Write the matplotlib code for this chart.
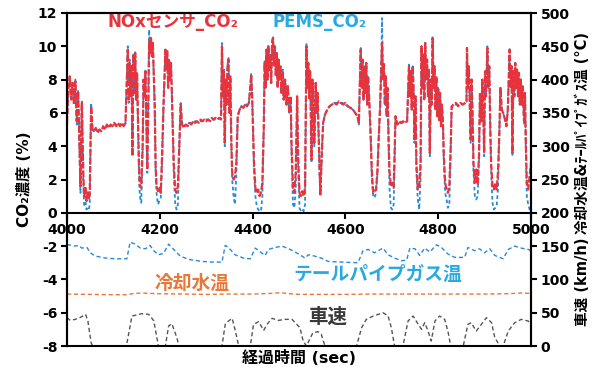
import matplotlib
matplotlib.use("Agg")
import matplotlib.pyplot as plt
import matplotlib.transforms as mtransforms

plt.rcParams['font.family'] = ['DejaVu Sans', 'Noto Sans CJK JP']
plt.rcParams['font.weight'] = 'bold'
plt.rcParams['axes.unicode_minus'] = False

# CO2 concentration (%) - NOx sensor and PEMS
co2_t = [4000, 4003, 4006, 4009, 4012, 4015, 4018, 4021, 4024, 4026, 4029, 4032, 4035, 4037, 4040, 4042, 4045, 4047, 4049, 4052, 4055,
         4058, 4062, 4066, 4070, 4074, 4078, 4082, 4086, 4090, 4094, 4098, 4102, 4106, 4110, 4114, 4118, 4122, 4126,
         4129, 4131, 4133, 4135, 4137, 4139, 4141, 4143, 4145, 4147, 4149, 4151, 4153, 4155, 4157, 4160, 4163, 4165, 4167, 4169,
         4171, 4173, 4175, 4177, 4179, 4181, 4183, 4185, 4187, 4189, 4191, 4193, 4196, 4199, 4202, 4205, 4208, 4210, 4212, 4214,
         4216, 4218, 4220, 4222, 4224, 4226, 4228, 4230, 4233, 4236, 4239, 4242, 4245, 4248,
         4252, 4256, 4260, 4264, 4268, 4272, 4276, 4280, 4284, 4288, 4292, 4296, 4300, 4304, 4308, 4312, 4316, 4320, 4324, 4328, 4332,
         4334, 4336, 4338, 4340, 4342, 4344, 4346, 4348, 4350, 4352, 4354, 4356, 4359, 4362, 4365, 4368, 4372, 4376, 4380, 4384,
         4388, 4392, 4395, 4397, 4399, 4401, 4403, 4406, 4409, 4412, 4415, 4418, 4421, 4424,
         4426, 4428, 4430, 4432, 4434, 4436, 4438, 4440, 4442, 4444, 4446, 4448, 4450, 4452, 4454, 4456, 4458, 4460, 4462,
         4465, 4467, 4470, 4473, 4476, 4479, 4482, 4484, 4487, 4490, 4493, 4496, 4498, 4501, 4504, 4507, 4510, 4513,
         4516, 4518, 4520, 4522, 4524, 4527, 4529, 4531, 4533, 4536, 4538, 4540, 4542, 4544, 4546, 4549, 4552, 4556, 4561,
         4566, 4571, 4576, 4581, 4586, 4590, 4595, 4600, 4605, 4611, 4616, 4621, 4626, 4629,
         4633, 4635, 4637, 4639, 4641, 4643, 4645, 4647, 4649, 4651, 4654, 4657, 4660, 4663, 4666, 4669, 4672, 4675, 4677, 4679,
         4681, 4683, 4685, 4687, 4689, 4691, 4693, 4695, 4698, 4701, 4704, 4706, 4708, 4712, 4716, 4720, 4724, 4728, 4733,
         4737, 4739, 4741, 4743, 4745, 4747, 4749, 4751, 4753, 4756, 4759, 4762,
         4764, 4766, 4768, 4770, 4772, 4774, 4776, 4778, 4780, 4782, 4784, 4786, 4788, 4790, 4792, 4794, 4796, 4798, 4800, 4802,
         4804, 4806, 4808, 4810, 4812, 4815, 4818, 4821, 4824, 4827,
         4829, 4833, 4838, 4843, 4848, 4853, 4858, 4861,
         4862, 4864, 4866, 4868, 4870, 4872, 4874, 4876, 4879, 4882, 4885, 4888, 4890, 4893, 4895, 4897, 4899, 4901,
         4903, 4906, 4908, 4910, 4912, 4914, 4917, 4920, 4923, 4926, 4929,
         4932, 4934, 4937, 4940, 4944, 4947, 4950, 4952, 4954, 4956, 4958, 4960, 4962, 4964, 4966, 4968, 4970, 4972,
         4974, 4976, 4978, 4980, 4982, 4985, 4987, 4989, 4991, 4994, 4997, 5000]
nox_co2 = [5.4, 7.5, 8.2, 6.8, 7.8, 6.5, 7.9, 5.5, 7.3, 5.0, 1.6, 6.6, 2.5, 1.0, 1.5, 0.7, 1.3, 0.8, 1.2, 6.4, 5.0,
           4.9, 5.1, 4.8, 5.0, 4.9, 5.2, 5.0, 5.3, 5.1, 5.3, 5.2, 5.4, 5.2, 5.4, 5.2, 5.4, 5.2, 5.4,
           8.0, 9.8, 6.8, 9.0, 7.0, 8.8, 3.4, 9.5, 7.2, 9.6, 6.8, 8.4, 5.5, 3.0, 1.6, 1.5, 4.0, 8.0, 7.0, 8.5,
           5.5, 2.6, 6.0, 10.3, 9.6, 10.5, 9.4, 10.2, 8.4, 6.5, 2.8, 1.6, 1.3, 1.5, 1.2, 3.5, 6.5, 8.0, 9.8, 8.6,
           9.7, 7.5, 9.2, 8.0, 9.0, 7.2, 5.0, 3.0, 1.4, 1.2, 1.6, 4.0, 6.5, 5.3,
           5.1, 5.3, 5.2, 5.4, 5.3, 5.5, 5.4, 5.5, 5.4, 5.6, 5.5, 5.6, 5.5, 5.6, 5.5, 5.7, 5.6, 5.7, 5.6, 5.7, 5.6,
           10.0, 7.0, 8.5, 4.2, 8.0, 6.5, 8.8, 9.2, 6.0, 8.2, 4.5, 2.4, 2.0, 2.2, 3.0, 5.8, 6.2, 6.4, 6.3, 6.5,
           6.4, 6.6, 7.5, 8.3, 7.0, 5.0, 3.0, 1.5, 1.2, 1.4, 1.0, 1.2, 1.8, 5.0,
           9.0, 7.5, 9.8, 8.0, 10.0, 8.5, 9.5, 7.8, 10.2, 10.5, 8.8, 10.0, 8.2, 9.6, 7.5, 9.2, 8.0, 8.8, 7.2,
           8.5, 6.8, 8.0, 6.5, 7.6, 6.0, 7.0, 4.0, 1.5, 1.2, 2.5, 7.0, 3.5, 1.2, 1.0, 1.3, 1.0, 1.5,
           10.0, 7.5, 9.0, 6.8, 8.5, 3.2, 8.0, 6.5, 4.2, 7.8, 6.0, 7.2, 5.0, 3.0, 1.1, 3.5, 5.4, 5.9, 6.2,
           6.4, 6.5, 6.6, 6.5, 6.7, 6.6, 6.5, 6.6, 6.4, 6.3, 6.2, 6.0, 5.8, 5.4,
           9.8, 7.5, 9.2, 6.8, 8.8, 7.2, 9.0, 6.5, 8.2, 7.0, 5.0, 2.5, 1.2, 1.3, 1.4, 2.5, 4.6, 6.5, 8.5, 10.2,
           8.0, 9.0, 6.5, 8.2, 5.8, 7.5, 4.5, 2.5, 1.6, 1.8, 1.5, 3.5, 5.8, 5.3, 5.5, 5.4, 5.5, 5.4, 5.5,
           8.8, 7.0, 8.5, 6.2, 8.8, 7.4, 4.4, 7.0, 3.0, 1.4, 1.5, 3.0,
           10.0, 7.5, 9.5, 6.8, 10.2, 8.0, 9.2, 7.0, 8.6, 3.6, 8.0, 6.5, 10.5, 7.5, 8.8, 6.2, 8.2, 5.8, 7.5, 5.5,
           7.2, 5.2, 6.5, 5.6, 3.5, 1.8, 1.4, 1.2, 1.6, 4.0,
           6.4, 6.5, 6.6, 6.4, 6.6, 6.5, 6.6, 6.7,
           9.9, 7.5, 8.8, 6.5, 4.4, 8.0, 6.0, 3.0, 1.8, 2.6, 1.7, 3.5, 7.2, 5.5, 8.0, 6.5, 3.6, 8.5,
           7.0, 9.9, 7.5, 8.8, 5.5, 3.0, 1.6, 1.4, 1.8, 1.4, 2.5,
           5.0, 7.5, 6.2, 6.0, 5.6, 5.2, 6.2, 8.0, 9.8, 7.5, 8.8, 3.6, 8.5, 7.0, 9.0, 7.5, 8.6, 7.0,
           8.4, 6.5, 8.0, 6.5, 7.6, 5.5, 7.2, 4.0, 1.8, 1.4, 2.2, 3.0]
pems_co2 = [5.6, 7.6, 8.0, 6.9, 7.9, 6.6, 8.0, 5.3, 7.4, 4.8, 1.2, 6.8, 2.0, 0.4, 0.6, 0.2, 0.3, 0.2, 0.5, 6.6, 5.0,
            4.9, 5.0, 4.9, 5.0, 5.0, 5.1, 5.1, 5.2, 5.2, 5.2, 5.3, 5.3, 5.3, 5.3, 5.3, 5.3, 5.3, 5.3,
            8.2, 10.0, 6.6, 9.2, 7.0, 8.9, 3.8, 9.6, 7.2, 9.7, 6.8, 8.4, 5.3, 2.5, 1.0, 0.6, 3.8, 8.1, 7.0, 8.6,
            5.4, 2.4, 6.2, 11.0, 9.8, 10.3, 9.5, 10.2, 8.4, 6.4, 2.6, 1.2, 0.5, 0.7, 0.9, 3.0, 6.4, 8.0, 9.9, 8.6,
            9.7, 7.5, 9.2, 8.0, 9.0, 7.2, 4.8, 2.5, 0.6, 0.2, 0.5, 3.8, 6.6, 5.3,
            5.2, 5.3, 5.3, 5.4, 5.4, 5.4, 5.5, 5.5, 5.5, 5.5, 5.5, 5.6, 5.6, 5.6, 5.6, 5.6, 5.6, 5.6, 5.6, 5.7, 5.7,
            10.2, 7.0, 8.6, 4.0, 8.0, 6.5, 8.9, 9.3, 6.0, 8.0, 4.2, 2.0, 1.0, 0.5, 2.5, 5.8, 6.2, 6.4, 6.4, 6.5,
            6.5, 6.6, 7.6, 8.4, 7.0, 4.8, 2.6, 1.0, 0.4, 0.2, 0.1, 0.1, 1.0, 5.0,
            9.2, 7.5, 9.8, 8.0, 10.1, 8.5, 9.6, 7.8, 10.3, 10.6, 8.8, 10.0, 8.2, 9.6, 7.5, 9.2, 8.0, 8.8, 7.2,
            8.6, 6.8, 8.0, 6.5, 7.6, 6.0, 6.8, 3.5, 0.5, 0.3, 1.5, 6.8, 3.0, 0.3, 0.1, 0.2, 0.1, 0.5,
            10.2, 7.5, 9.0, 6.8, 8.5, 3.0, 8.0, 6.5, 4.0, 7.8, 6.0, 7.2, 4.8, 2.5, 1.0, 3.2, 5.4, 5.9, 6.2,
            6.4, 6.5, 6.6, 6.6, 6.6, 6.6, 6.6, 6.5, 6.4, 6.3, 6.2, 6.0, 5.8, 5.3,
            9.9, 7.5, 9.2, 6.8, 8.8, 7.2, 9.0, 6.5, 8.2, 7.0, 4.8, 2.0, 1.0, 0.9, 1.2, 2.3, 4.6, 6.5, 8.6, 11.7,
            8.0, 9.0, 6.5, 8.2, 5.8, 7.4, 4.2, 1.5, 0.3, 0.2, 0.5, 3.0, 5.8, 5.3, 5.4, 5.4, 5.4, 5.4, 5.5,
            8.9, 7.0, 8.5, 6.2, 8.8, 7.4, 4.2, 7.0, 2.5, 0.8, 0.2, 2.0,
            10.0, 7.5, 9.5, 6.8, 10.2, 8.0, 9.2, 7.0, 8.6, 3.4, 8.0, 6.5, 10.6, 7.5, 8.8, 6.2, 8.2, 5.8, 7.5, 5.5,
            7.2, 5.2, 6.5, 5.5, 3.2, 1.2, 0.8, 0.3, 0.5, 3.8,
            6.3, 6.5, 6.5, 6.5, 6.5, 6.5, 6.6, 6.6,
            10.0, 7.5, 8.8, 6.5, 4.2, 8.0, 6.0, 2.5, 1.0, 0.8, 1.0, 3.2, 7.2, 5.5, 8.0, 6.5, 3.4, 8.5,
            7.0, 10.0, 7.5, 8.8, 5.3, 2.5, 0.6, 0.2, 0.3, 0.4, 1.5,
            5.0, 7.6, 6.2, 6.0, 5.6, 5.2, 6.2, 8.0, 9.9, 7.5, 8.8, 3.4, 8.5, 7.0, 9.0, 7.5, 8.6, 7.0,
            8.4, 6.5, 8.0, 6.5, 7.6, 5.3, 7.2, 3.5, 1.0, 0.5, 0.2, 0.3]

# tailpipe gas temperature (deg C)
tp_t = [4000, 4018, 4025, 4032, 4043, 4050, 4061, 4083, 4104, 4129, 4136, 4147, 4158, 4169, 4179, 4187, 4197, 4208,
        4219, 4230, 4244, 4262, 4291, 4312, 4334, 4341, 4348, 4362, 4380, 4395, 4406, 4417, 4427, 4434, 4449, 4463,
        4478, 4492, 4502, 4513, 4520, 4534, 4548, 4563, 4592, 4627, 4638, 4649, 4663, 4681, 4692, 4706, 4721, 4732,
        4739, 4750, 4760, 4771, 4782, 4796, 4807, 4821, 4836, 4857, 4864, 4879, 4889, 4900, 4911, 4922, 4940, 4951,
        4965, 4979, 4994, 5000]
tailpipe = [152.5, 150, 151, 147, 148, 140, 135, 132, 131, 131, 156, 153, 147, 146, 151, 143, 137, 139,
            153, 145, 135, 130, 127, 126, 126, 151, 148, 137, 132, 131, 147, 141, 136, 145, 148, 150,
            146, 141, 137, 132, 137, 135, 132, 127, 126, 125, 143, 145, 140, 147, 137, 132, 128, 129,
            147, 146, 136, 147, 141, 152, 148, 138, 133, 133, 148, 143, 146, 140, 146, 136, 131, 145,
            150, 147, 145, 143]

# coolant temperature (deg C)
cool_t = [4000, 4050, 4100, 4130, 4145, 4160, 4200, 4250, 4300, 4350, 4400, 4440, 4460, 4480, 4500,
          4550, 4600, 4650, 4700, 4750, 4800, 4850, 4900, 4950, 4980, 5000]
coolant = [78, 77.5, 77, 77, 79, 79.5, 78.5, 78, 77.5, 78, 78, 79, 80, 78.5, 77.5,
           77.5, 77.5, 78, 78, 78, 78, 78, 78, 78.5, 79.5, 79]

# vehicle speed (km/h)
spd_t = [4000, 4007, 4018, 4029, 4040, 4045, 4052, 4055, 4128, 4140, 4161, 4176, 4187, 4197, 4212, 4219, 4226,
         4237, 4241, 4334, 4341, 4348, 4356, 4363, 4370, 4395, 4402, 4413, 4424, 4431, 4442, 4456, 4470, 4485,
         4502, 4509, 4516, 4523, 4530, 4541, 4548, 4556, 4624, 4635, 4645, 4660, 4671, 4681, 4692, 4699, 4706,
         4724, 4735, 4746, 4757, 4764, 4771, 4778, 4785, 4793, 4803, 4814, 4821, 4827, 4854, 4864, 4871, 4882,
         4893, 4904, 4915, 4922, 4933, 4940, 4951, 4965, 4979, 4994, 5000]
speed = [42.5, 38.5, 40, 43, 47.5, 37.5, 5, 0, 0, 45, 48.5, 47.5, 38, 0, 0, 30, 33.5,
         12, 0, 0, 32.5, 37.5, 41.5, 22, 0, 0, 32.5, 36.5, 23.5, 32.5, 41.5, 38.5, 40, 40,
         27.5, 7.5, 0, 10, 20, 21.5, 17.5, 0, 0, 27.5, 40, 45, 47.5, 50, 45, 27.5, 0,
         0, 37.5, 45, 32.5, 25, 35, 22.5, 7.5, 37.5, 45, 40, 22, 0, 0, 32.5, 35, 22.5,
         32.5, 42.5, 35, 12.5, 0, 0, 22.5, 35, 40, 37.5, 32]

x_ticks = [4000, 4200, 4400, 4600, 4800, 5000]
left_ticks = [-8, -6, -4, -2, 0, 2, 4, 6, 8, 10, 12]
right_ticks = [0, 50, 100, 150, 200, 250, 300, 350, 400, 450, 500]

RED = '#e8333d'
BLUE = '#2a8ad6'
LBLUE = '#2aa8e2'
ORANGE = '#e8783a'
GRAY = '#555555'

fig = plt.figure(figsize=(5.98, 3.67), dpi=100)
ax = fig.add_axes([67 / 598, 1 - 346 / 367, 464 / 598, 333 / 367])
ax2 = ax.twinx()

ax.plot(co2_t, pems_co2, color=BLUE, lw=1.3, ls=(0, (2, 1.5)), zorder=2)
ax.plot(co2_t, nox_co2, color=RED, lw=1.6, ls=(0, (3, 0.8)), zorder=3)

ax2.plot(tp_t, tailpipe, color=BLUE, lw=1.0, ls=(0, (3, 2)))
ax2.plot(cool_t, coolant, color=ORANGE, lw=1.0, ls=(0, (3, 2)))
ax2.plot(spd_t, speed, color=GRAY, lw=1.0, ls=(0, (3, 2)))

ax.set_xlim(4000, 5000)
ax.set_ylim(-8, 12)
ax2.set_ylim(0, 500)

ax.spines['bottom'].set_position(('data', 0))
for sp in ax.spines.values():
    sp.set_linewidth(1.5)
for sp in ax2.spines.values():
    sp.set_linewidth(1.5)

ax.set_xticks(x_ticks)
ax.set_yticks(left_ticks)
ax2.set_yticks(right_ticks)
ax.tick_params(axis='x', direction='out', length=4, width=1.5, labelsize=10, pad=3)
ax.tick_params(axis='y', direction='out', length=4, width=1.5, labelsize=10, pad=3)
ax2.tick_params(axis='y', direction='out', length=4, width=1.5, labelsize=10, pad=3)
for lab in ax.get_xticklabels() + ax.get_yticklabels() + ax2.get_yticklabels():
    lab.set_fontweight('bold')

# series labels
ax.text(4088, 11.45, 'NOxセンサ_CO₂', color=RED, fontsize=12, fontweight='bold', ha='left', va='center')
ax.text(4442, 11.45, 'PEMS_CO₂', color=LBLUE, fontsize=12, fontweight='bold', ha='left', va='center')
ax.text(4188, -4.25, '冷却水温', color=ORANGE, fontsize=13.5, fontweight='bold', ha='left', va='center')
ax.text(4489, -3.7, 'テールパイプガス温', color=LBLUE, fontsize=13.5, fontweight='bold', ha='left', va='center')
ax.text(4519, -6.3, '車速', color='#3a3a3a', fontsize=14, fontweight='bold', ha='left', va='center')

ax.set_ylabel('CO₂濃度 (%)', fontsize=11, fontweight='bold', labelpad=4)
fig.text(0.5 * (67 + 531) / 598, 1 - 358 / 367, '経過時間 (sec)', fontsize=11.5, fontweight='bold',
         ha='center', va='center')

trans = mtransforms.blended_transform_factory(ax2.transAxes, ax2.transData)
ax2.text(1.112, 96, '車速 (km/h)', transform=trans, rotation=90, fontsize=10.5, fontweight='bold',
         ha='center', va='center')
ax2.text(1.112, 320, '冷却水温&ﾃｰﾙﾊﾟｲﾌﾟｶﾞｽ温 (°C)', transform=trans, rotation=90, fontsize=10.5,
         fontweight='bold', ha='center', va='center')

fig.savefig('out.png', dpi=100)
